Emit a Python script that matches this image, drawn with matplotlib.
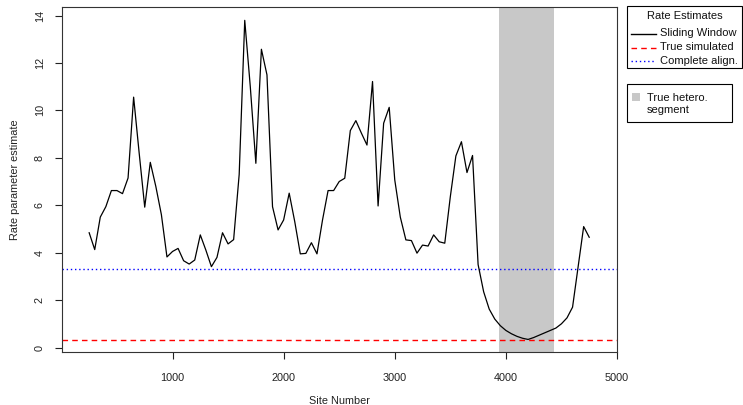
import matplotlib
matplotlib.use("Agg")
import matplotlib.pyplot as plt
from matplotlib.lines import Line2D
from matplotlib.patches import Rectangle
import numpy as np

plt.rcParams['font.family'] = ['Liberation Sans', 'DejaVu Sans']

sites = list(range(250, 4751, 50))
rate = [4.84, 4.13, 5.50, 5.94, 6.62, 6.62, 6.49, 7.15, 10.56, 8.2,
        5.92, 7.81, 6.79, 5.6, 3.82, 4.05, 4.18, 3.66, 3.52, 3.69,
        4.75, 4.11, 3.41, 3.80, 4.84, 4.37, 4.55, 7.3, 13.8, 11.0,
        7.77, 12.58, 11.5, 5.94, 4.96, 5.38, 6.51, 5.31, 3.95, 3.97,
        4.42, 3.95, 5.38, 6.62, 6.62, 7.0, 7.14, 9.15, 9.57, 9.04,
        8.54, 11.22, 5.97, 9.46, 10.13, 7.07, 5.5, 4.54, 4.51, 3.98,
        4.32, 4.28, 4.75, 4.46, 4.40, 6.36, 8.08, 8.68, 7.38, 8.10,
        3.5, 2.35, 1.62, 1.2, 0.92, 0.72, 0.58, 0.47, 0.39, 0.34,
        0.42, 0.52, 0.62, 0.72, 0.82, 1.0, 1.25, 1.7, 3.4, 5.1, 4.65]
true_rate = 0.3
complete_rate = 3.3
hetero_start, hetero_end = 3935, 4432
legend_title = 'Rate Estimates'
legend_labels = ['Sliding Window', 'True simulated', 'Complete align.']
band_label = 'True hetero.\nsegment'

FS = 7.8
LFS = 8.0
W, H = 743, 405
fig = plt.figure(figsize=(W/100, H/100), dpi=100)
ax = fig.add_axes([61.5/W, 1-351.7/H, (617-61.5)/W, (351.7-7.3)/H])

ax.axvspan(hetero_start, hetero_end, color='#C8C8C8', lw=0, zorder=1)
ax.plot(sites, rate, color='black', lw=0.9, zorder=3)
red_ls = (0, (4, 3))
blue_ls = (0, (1, 2))
ax.axhline(true_rate, color='red', ls=red_ls, lw=1, zorder=2)
ax.axhline(complete_rate, color='blue', ls=blue_ls, lw=1, zorder=2)

ax.set_xlim(1, 5000)
ax.set_ylim(-0.177, 14.35)
ax.set_xticks([1000, 2000, 3000, 4000, 5000])
ax.set_yticks(range(0, 15, 2))
ax.tick_params(direction='out', length=5, width=0.8, labelsize=FS, colors='#222222')
ax.tick_params(axis='x', pad=10)
ax.tick_params(axis='y', pad=7)
for lab in ax.get_yticklabels():
    lab.set_rotation(90)
    lab.set_va('center')
for s in ax.spines.values():
    s.set_linewidth(0.8)
    s.set_color('#333333')

ax.set_xlabel('Site Number', fontsize=FS, labelpad=10, color='#222222')
ax.set_ylabel('Rate parameter estimate', fontsize=FS, labelpad=11, color='#222222')

# manual R-style legends, in figure pixel coordinates
def fx(x):
    return x / W
def fy(y):
    return 1 - y / H

fig.add_artist(Rectangle((fx(627), fy(68)), (742 - 627) / W, (68 - 6) / H,
                         transform=fig.transFigure, facecolor='white',
                         edgecolor='black', lw=0.8))
fig.text(fx(684.5), fy(16), legend_title, fontsize=LFS, ha='center', va='center',
         color='#111111')
styles = [dict(color='black', ls='-'), dict(color='red', ls=red_ls),
          dict(color='blue', ls=blue_ls)]
ys = [33.5, 47.5, 61]
for yy, lab, st in zip(ys, legend_labels, styles):
    fig.add_artist(Line2D([fx(631), fx(656)], [fy(yy), fy(yy)],
                          transform=fig.transFigure, lw=1, **st))
    fig.text(fx(660), fy(yy), lab, fontsize=LFS, ha='left', va='center',
             color='#111111')

fig.add_artist(Rectangle((fx(627), fy(122)), (732 - 627) / W, (122 - 84) / H,
                         transform=fig.transFigure, facecolor='white',
                         edgecolor='black', lw=0.8))
fig.add_artist(Rectangle((fx(632), fy(101)), 8 / W, 8 / H,
                         transform=fig.transFigure, facecolor='#C8C8C8',
                         edgecolor='none'))
fig.text(fx(647), fy(104), band_label, fontsize=LFS, ha='left', va='center',
         color='#111111', linespacing=1.25)

fig.savefig('out.png', dpi=100)
